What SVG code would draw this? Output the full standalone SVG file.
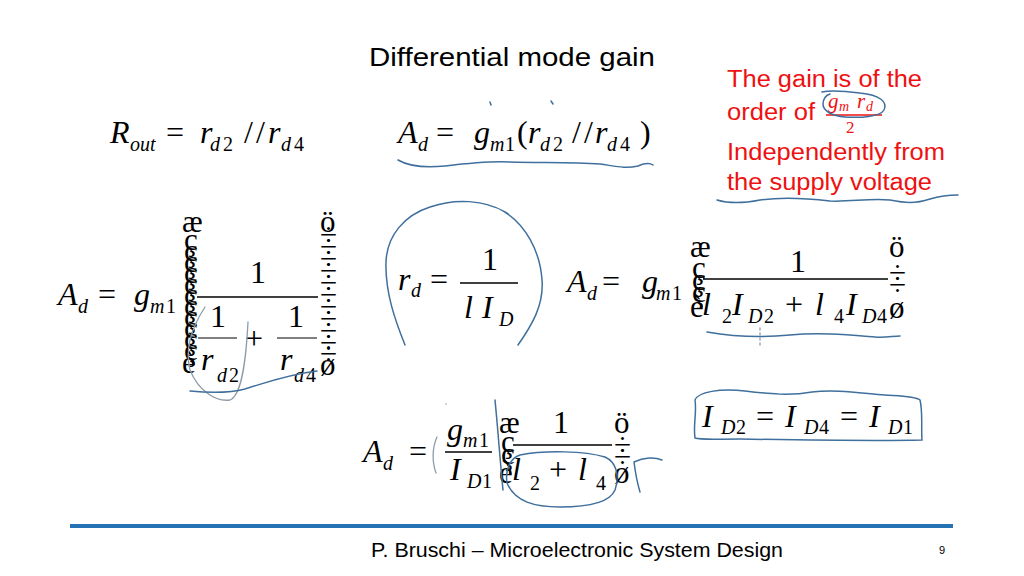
<svg xmlns="http://www.w3.org/2000/svg" width="1024" height="576" viewBox="0 0 1024 576">
<style>
.m{font-family:"Liberation Serif",serif;font-size:32px;fill:#000}
.i{font-style:italic}
.s{font-size:20px}
.b{font-family:"Liberation Serif",serif;font-size:31px;fill:#000}
.t{font-family:"Liberation Sans",Arial,sans-serif;fill:#000}
.red{font-family:"Liberation Sans",Arial,sans-serif;font-size:23px;fill:#ee1111}
.rm{font-family:"Liberation Serif",serif;font-style:italic;fill:#ee1111}
.ink{fill:none;stroke:#3f6f9c;stroke-width:1.5;stroke-linecap:round}
.gink{fill:none;stroke:#8f9ca8;stroke-width:1.3;stroke-linecap:round}
.bar{stroke:#000;stroke-width:1.5}
</style>
<rect width="1024" height="576" fill="#fff"/>
<text class="t" x="369" y="66" font-size="26" textLength="286" lengthAdjust="spacingAndGlyphs">Differential mode gain</text>

<g id="note">
<text class="red" x="727" y="87" textLength="195" lengthAdjust="spacingAndGlyphs">The gain is of the</text>
<text class="red" x="727" y="120" textLength="88" lengthAdjust="spacingAndGlyphs">order of</text>
<text class="red" x="727" y="160" textLength="218" lengthAdjust="spacingAndGlyphs">Independently from</text>
<text class="red" x="727" y="190" textLength="205" lengthAdjust="spacingAndGlyphs">the supply voltage</text>
<text class="rm" font-size="21" x="828" y="108">g</text>
<text class="rm" font-size="14" x="839" y="111">m</text>
<text class="rm" font-size="21" x="857" y="108">r</text>
<text class="rm" font-size="14" x="866" y="111">d</text>
<line x1="826" y1="115" x2="882" y2="115" stroke="#ee1111" stroke-width="1.3"/>
<text font-family="Liberation Serif,serif" font-size="17" fill="#ee1111" x="846" y="133">2</text>
</g>

<g id="eq-rout">
<text class="m i" x="110" y="143">R</text>
<text class="m i s" x="130" y="151">out</text>
<text class="m" x="166" y="143">=</text>
<text class="m i" x="200" y="143">r</text>
<text class="m i s" x="210" y="151">d</text>
<text class="m s" x="223" y="151">2</text>
<text class="m" x="244" y="143">/</text>
<text class="m" x="256" y="143">/</text>
<text class="m i" x="268" y="143">r</text>
<text class="m i s" x="281" y="151">d</text>
<text class="m s" x="294" y="151">4</text>
</g>

<g id="eq-ad1">
<text class="m i" x="398" y="143">A</text>
<text class="m i s" x="418" y="151">d</text>
<text class="m" x="436" y="143">=</text>
<text class="m i" x="474" y="143">g</text>
<text class="m i s" x="490" y="151">m</text>
<text class="m s" x="505" y="151">1</text>
<text class="m" x="517" y="143" font-size="36">(</text>
<text class="m i" x="528" y="143">r</text>
<text class="m i s" x="540" y="151">d</text>
<text class="m s" x="553" y="151">2</text>
<text class="m" x="572" y="143">/</text>
<text class="m" x="584" y="143">/</text>
<text class="m i" x="595" y="143">r</text>
<text class="m i s" x="607" y="151">d</text>
<text class="m s" x="620" y="151">4</text>
<text class="m" x="640" y="143" font-size="36">)</text>
</g>

<g id="eq-big">
<text class="m i" x="58" y="305">A</text>
<text class="m i s" x="78" y="313">d</text>
<text class="m" x="98" y="305">=</text>
<text class="m i" x="134" y="305">g</text>
<text class="m i s" x="150" y="313">m</text>
<text class="m s" x="166" y="313">1</text>
<text class="b" x="182" y="232">æ</text>
<text class="b" x="184" y="250">ç</text><text class="b" x="184" y="261">ç</text><text class="b" x="184" y="272">ç</text><text class="b" x="184" y="283">ç</text><text class="b" x="184" y="294">ç</text><text class="b" x="184" y="305">ç</text><text class="b" x="184" y="316">ç</text><text class="b" x="184" y="327">ç</text><text class="b" x="184" y="338">ç</text><text class="b" x="184" y="349">ç</text><text class="b" x="184" y="360">ç</text>
<text class="b" x="182" y="373">è</text>
<text class="b" x="320" y="232">ö</text>
<text class="b" x="320" y="245">÷</text><text class="b" x="320" y="257">÷</text><text class="b" x="320" y="269">÷</text><text class="b" x="320" y="281">÷</text><text class="b" x="320" y="293">÷</text><text class="b" x="320" y="305">÷</text><text class="b" x="320" y="317">÷</text><text class="b" x="320" y="329">÷</text><text class="b" x="320" y="341">÷</text><text class="b" x="320" y="353">÷</text><text class="b" x="320" y="364">÷</text>
<text class="b" x="320" y="375">ø</text>
<line class="bar" x1="197" y1="297" x2="318" y2="297"/>
<text class="m" x="250" y="283">1</text>
<text class="m" x="210" y="327">1</text>
<line x1="198" y1="338" x2="237" y2="338" stroke="#000" stroke-width="1"/>
<text class="m i" x="201" y="370">r</text>
<text class="m i s" x="217" y="382">d</text>
<text class="m s" x="229" y="382">2</text>
<text class="m" x="245" y="349">+</text>
<text class="m" x="288" y="327">1</text>
<line x1="277" y1="338" x2="317" y2="338" stroke="#000" stroke-width="1"/>
<text class="m i" x="280" y="370">r</text>
<text class="m i s" x="294" y="382">d</text>
<text class="m s" x="306" y="382">4</text>
</g>

<g id="eq-rd">
<text class="m i" x="398" y="290">r</text>
<text class="m i s" x="411" y="297">d</text>
<text class="m" x="430" y="290">=</text>
<text class="m" x="482" y="270">1</text>
<line class="bar" x1="460" y1="283" x2="518" y2="283"/>
<text class="m i" x="464" y="318">l</text>
<text class="m i" x="482" y="318">I</text>
<text class="m i s" x="499" y="326">D</text>
</g>

<g id="eq-ad2">
<text class="m i" x="567" y="292">A</text>
<text class="m i s" x="587" y="300">d</text>
<text class="m" x="602" y="292">=</text>
<text class="m i" x="642" y="292">g</text>
<text class="m i s" x="656" y="300">m</text>
<text class="m s" x="672" y="300">1</text>
<text class="b" x="690" y="257">æ</text>
<text class="b" x="692" y="278">ç</text><text class="b" x="692" y="290">ç</text><text class="b" x="692" y="302">ç</text>
<text class="b" x="690" y="317">è</text>
<line class="bar" x1="703" y1="279" x2="888" y2="279"/>
<text class="m" x="790" y="272">1</text>
<text class="m i" x="702" y="315">l</text>
<text class="m s" x="722" y="323">2</text>
<text class="m i" x="732" y="315">I</text>
<text class="m i s" x="748" y="323">D</text>
<text class="m s" x="764" y="323">2</text>
<text class="m" x="785" y="315">+</text>
<text class="m i" x="815" y="315">l</text>
<text class="m s" x="834" y="323">4</text>
<text class="m i" x="846" y="315">I</text>
<text class="m i s" x="862" y="323">D</text>
<text class="m s" x="877" y="323">4</text>
<text class="b" x="889" y="257">ö</text>
<text class="b" x="889" y="283">÷</text><text class="b" x="889" y="295">÷</text>
<text class="b" x="889" y="318">ø</text>
</g>

<g id="eq-id">
<text class="m i" x="702" y="427">I</text>
<text class="m i s" x="721" y="434">D</text>
<text class="m s" x="736" y="434">2</text>
<text class="m" x="756" y="427">=</text>
<text class="m i" x="785" y="427">I</text>
<text class="m i s" x="804" y="434">D</text>
<text class="m s" x="819" y="434">4</text>
<text class="m" x="840" y="427">=</text>
<text class="m i" x="869" y="427">I</text>
<text class="m i s" x="888" y="434">D</text>
<text class="m s" x="903" y="434">1</text>
</g>

<g id="eq-ad3">
<text class="m i" x="363" y="462">A</text>
<text class="m i s" x="383" y="470">d</text>
<text class="m" x="409" y="462">=</text>
<text class="m i" x="447" y="440">g</text>
<text class="m i s" x="463" y="447">m</text>
<text class="m s" x="479" y="447">1</text>
<line class="bar" x1="445" y1="452" x2="492" y2="452"/>
<text class="m i" x="450" y="480">I</text>
<text class="m i s" x="467" y="488">D</text>
<text class="m s" x="482" y="488">1</text>
<text class="b" x="499" y="433">æ</text>
<text class="b" x="501" y="452">ç</text><text class="b" x="501" y="464">ç</text>
<text class="b" x="499" y="483">è</text>
<line class="bar" x1="513" y1="445" x2="612" y2="445"/>
<text class="m" x="553" y="433">1</text>
<text class="m i" x="512" y="480">l</text>
<text class="m s" x="530" y="490">2</text>
<text class="m" x="549" y="480">+</text>
<text class="m i" x="578" y="480">l</text>
<text class="m s" x="596" y="490">4</text>
<text class="b" x="614" y="433">ö</text>
<text class="b" x="614" y="455">÷</text><text class="b" x="614" y="467">÷</text>
<text class="b" x="614" y="483">ø</text>
</g>

<g id="connectors">
<path class="ink" d="M398,160 C410,167 425,168 445,166 C470,163 490,161 510,162 C540,163 570,162 600,164 C615,166 625,169 638,166 C645,163 650,163 653,165"/>
<path class="ink" d="M490,102 l1,3 M551,101 l2,3" stroke-width="1"/>
<path class="ink" d="M717,200 C730,204 745,203 760,200 C780,197 805,198 830,201 C850,202 870,198 890,200 C905,203 915,204 930,199 C940,196 950,195 958,195"/>
<path class="ink" d="M822,92 C830,90 845,91 860,93 C880,95 888,102 884,110 C880,117 860,118 845,117 C832,116 823,111 823,104 C823,99 826,95 830,94"/>
<path class="gink" d="M205,307 C190,330 185,350 190,370 C198,390 215,402 230,400 C242,395 246,360 248,322"/>
<path class="ink" d="M190,391 C210,393 230,393 245,389 C265,383 285,375 317,371"/>
<path class="ink" d="M405,345 C395,320 385,292 386,262 C387,235 405,215 430,207 C455,198 485,200 505,212 C525,225 540,250 542,280 C544,305 532,325 518,345" stroke-width="1.3"/>
<path class="ink" d="M707,332 C730,336 760,338 790,335 C820,332 850,335 875,337 C885,338 893,336 900,336"/>
<path class="gink" d="M760,328 L760,348" stroke-dasharray="2,3"/>
<path class="ink" d="M695,400 C698,392 720,388 745,391 C770,394 790,396 812,392 C835,389 860,393 885,395 C900,396 915,396 920,400 C923,412 921,428 922,440 C880,441 800,440 740,439 C715,439 700,440 695,438 C693,425 697,412 695,400 Z" stroke-width="1.3"/>
<path class="gink" d="M437,437 C432,448 432,462 436,473"/>
<circle cx="446" cy="404" r="0.8" fill="#8f9ca8"/>
<path class="ink" d="M495,400 C498,430 500,460 503,490"/>
<path class="ink" d="M507,483 C505,470 510,458 520,455 C545,450 585,451 605,457 C616,462 620,475 615,490 C610,502 590,507 560,507 C535,507 515,502 507,483"/>
<path class="ink" d="M640,492 C637,482 635,470 634,462 M634,462 C644,457 655,457 662,460"/>
</g>

<line x1="70" y1="526" x2="953" y2="526" stroke="#2573b5" stroke-width="4"/>
<text class="t" x="371" y="557" font-size="21" textLength="412" lengthAdjust="spacingAndGlyphs">P. Bruschi – Microelectronic System Design</text>
<text class="t" x="939" y="554" font-size="11" fill="#999">9</text>
</svg>
